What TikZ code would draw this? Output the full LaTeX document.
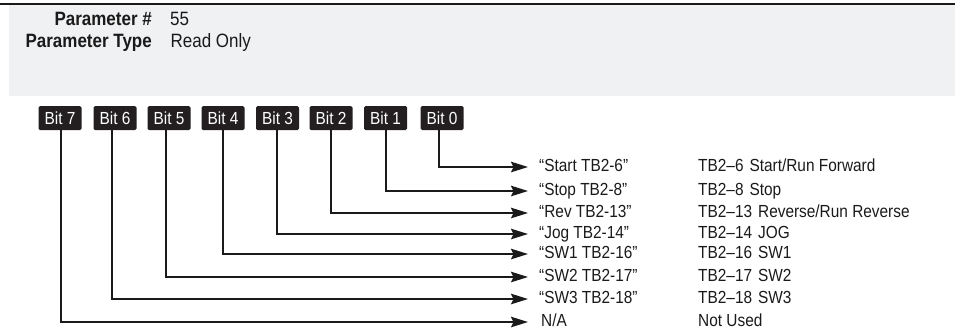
\documentclass[tikz,border=0pt]{standalone}
\usepackage{fontspec}
\setmainfont{Liberation Sans}[FakeStretch=0.88]
\usetikzlibrary{arrows.meta}
\definecolor{bandgray}{HTML}{F0F1F3}
\definecolor{boxblack}{HTML}{231F20}
\definecolor{inkblack}{HTML}{1A1A1A}
\begin{document}
\begin{tikzpicture}[x=1pt,y=-1pt,
  bitbox/.style={fill=boxblack, rounded corners=1.5pt, minimum width=43pt, minimum height=24pt,
    inner sep=0pt, text=white, font=\fontsize{17.5}{17.5}\selectfont},
  lbl/.style={anchor=base west, inner sep=0pt, text=inkblack, font=\fontsize{17.5}{17.5}\selectfont},
  hdr/.style={inner sep=0pt, text=inkblack, font=\fontsize{19.3}{19.3}\selectfont},
  hdrb/.style={hdr, font=\fontsize{19.3}{19.3}\selectfont\bfseries},
  arr/.style={draw=inkblack, line width=1.9pt, -{Stealth[length=17pt,width=10.5pt,inset=2.5pt]}}]
\useasboundingbox (0,0) rectangle (955,333);
% header band
\fill[bandgray] (9,4) rectangle (955,96);
\draw[inkblack, line width=1.3pt] (0,4) -- (955,4);
\node[hdrb, anchor=base east] (pn) at (152,25) {Parameter \#};
\node[hdr, anchor=base west] (pv) at (170,25) {55};
\node[hdrb, anchor=base east] (tn) at (152,47) {Parameter Type};
\node[hdr, anchor=base west] (tv) at (170.5,47) {Read Only};
% bit boxes
\node[bitbox] (b7) at (60,118) {Bit 7};
\node[bitbox] (b6) at (115,118) {Bit 6};
\node[bitbox] (b5) at (169,118) {Bit 5};
\node[bitbox] (b4) at (223,118) {Bit 4};
\node[bitbox] (b3) at (277.5,118) {Bit 3};
\node[bitbox] (b2) at (331,118) {Bit 2};
\node[bitbox] (b1) at (385.5,118) {Bit 1};
\node[bitbox] (b0) at (442,118) {Bit 0};
% arrow ends
\coordinate (t0) at (528,167);
\coordinate (t1) at (528,191);
\coordinate (t2) at (528,213);
\coordinate (t3) at (528,234);
\coordinate (t4) at (528,254);
\coordinate (t5) at (528,277);
\coordinate (t6) at (528,299);
\coordinate (t7) at (528,322);
% connectors
\draw[arr] ([xshift=-3pt]b0.south) |- (t0);
\draw[arr] ([xshift=0.5pt]b1.south) |- (t1);
\draw[arr] (b2.south) |- (t2);
\draw[arr] ([xshift=-0.5pt]b3.south) |- (t3);
\draw[arr] (b4.south) |- (t4);
\draw[arr] ([xshift=-3pt]b5.south) |- (t5);
\draw[arr] ([xshift=-3pt]b6.south) |- (t6);
\draw[arr] ([xshift=1pt]b7.south) |- (t7);
% labels
\node[lbl] (l0) at (539,171) {“Start TB2-6”};
\node[lbl] (l1) at (539,195) {“Stop TB2-8”};
\node[lbl] (l2) at (539,217) {“Rev TB2-13”};
\node[lbl] (l3) at (539,238) {“Jog TB2-14”};
\node[lbl] (l4) at (539,258) {“SW1 TB2-16”};
\node[lbl] (l5) at (539,281) {“SW2 TB2-17”};
\node[lbl] (l6) at (539,303) {“SW3 TB2-18”};
\node[lbl] (l7) at (541,326) {N/A};
% descriptions
\node[lbl] (d0) at (698,171) {TB2–6\hspace{6pt}Start/Run Forward};
\node[lbl] (d1) at (698,195) {TB2–8\hspace{6pt}Stop};
\node[lbl] (d2) at (698,217) {TB2–13\hspace{6pt}Reverse/Run Reverse};
\node[lbl] (d3) at (698,238) {TB2–14\hspace{6pt}JOG};
\node[lbl] (d4) at (698,258) {TB2–16\hspace{6pt}SW1};
\node[lbl] (d5) at (698,281) {TB2–17\hspace{6pt}SW2};
\node[lbl] (d6) at (698,303) {TB2–18\hspace{6pt}SW3};
\node[lbl] (d7) at (698,326) {Not Used};
\end{tikzpicture}
\end{document}
